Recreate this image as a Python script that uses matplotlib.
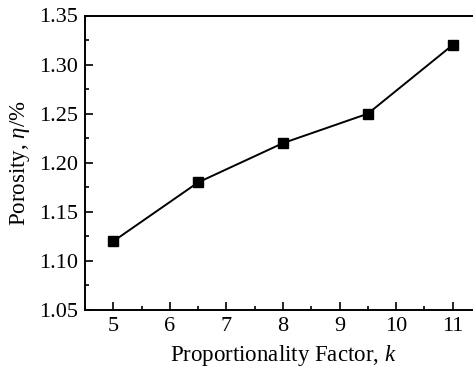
import matplotlib
import matplotlib.pyplot as plt
from matplotlib.ticker import MultipleLocator

matplotlib.use("Agg")
plt.rcParams["font.family"] = ["Liberation Serif", "DejaVu Serif"]
plt.rcParams["mathtext.fontset"] = "custom"
plt.rcParams["mathtext.it"] = "Liberation Serif:italic"
plt.rcParams["mathtext.rm"] = "Liberation Serif"

# data
k_values = [5, 6.5, 8, 9.5, 11]
porosity = [1.12, 1.18, 1.22, 1.25, 1.32]
x_ticks = [5, 6, 7, 8, 9, 10, 11]
y_ticks = [1.05, 1.10, 1.15, 1.20, 1.25, 1.30, 1.35]

fig = plt.figure(figsize=(4.73, 3.74), dpi=100)
# right edge sits just past the figure, as in the cropped original
ax = fig.add_axes([85 / 473, 1 - 310 / 374, (481 - 85) / 473, (310 - 15.5) / 374])

ax.plot(k_values, porosity, color="black", linewidth=1.4,
        marker="s", markersize=7.5, markerfacecolor="black", markeredgecolor="black")

ax.set_xlim(4.5, 11.5)
ax.set_ylim(1.05, 1.35)
ax.set_xticks(x_ticks)
ax.set_yticks(y_ticks)
ax.set_yticklabels([f"{v:.2f}" for v in y_ticks])
ax.xaxis.set_minor_locator(MultipleLocator(0.5))
ax.yaxis.set_minor_locator(MultipleLocator(0.025))

ax.tick_params(which="both", direction="in", top=False, right=False,
               labelsize=16, width=1.2)
ax.tick_params(which="major", length=6, pad=5)
ax.tick_params(which="minor", length=3)

ax.spines["right"].set_visible(False)
for side in ("left", "bottom", "top"):
    ax.spines[side].set_linewidth(1.4)

ax.set_xlabel("Proportionality Factor, $k$", fontsize=16.5, labelpad=5)
ax.set_ylabel("Porosity, $\\eta$/%", fontsize=16.5, labelpad=5)

fig.savefig("out.png", dpi=100)
